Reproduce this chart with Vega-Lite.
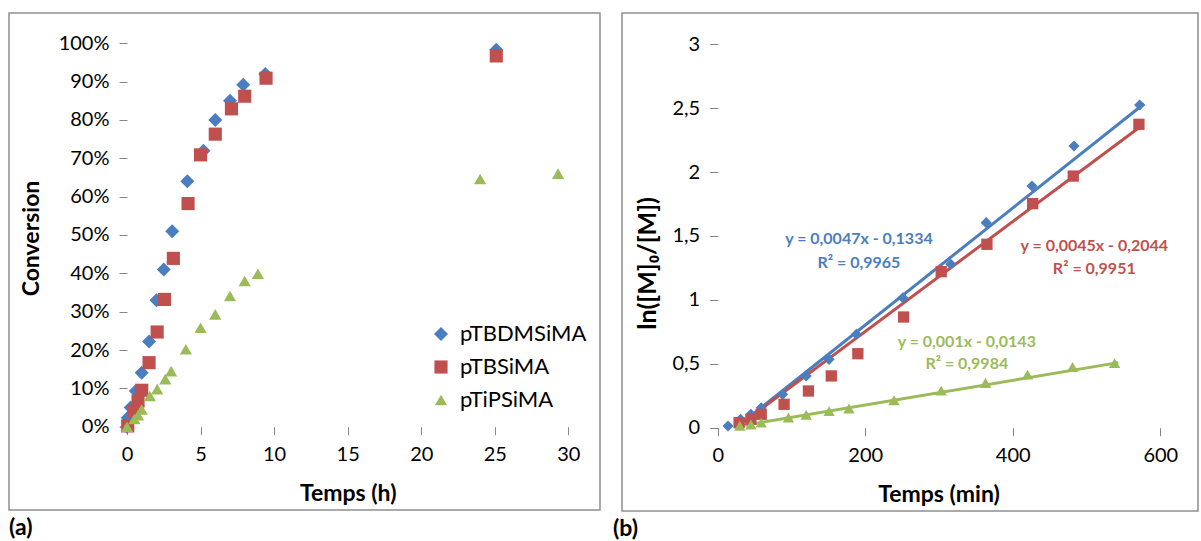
{
  "$schema": "https://vega.github.io/schema/vega-lite/v6.json",
  "padding": {"left": 8, "top": 12, "right": 0, "bottom": 0},
  "background": "white",
  "spacing": 11,
  "config": {
    "font": "Lato",
    "view": {"stroke": "#8f8f8f", "strokeWidth": 1.5},
    "axis": {"grid": false, "domain": false, "tickColor": "#868686", "tickSize": 8, "labelFont": "Lato", "labelFontSize": 20, "labelColor": "#000000", "labelPadding": 10, "titleFont": "Lato", "titleFontSize": 23, "titleFontWeight": "bold", "titleColor": "#000000"},
    "legend": {"title": null, "labelFont": "Lato", "labelFontSize": 22, "labelColor": "#000000", "padding": 0, "symbolStrokeWidth": 0},
    "title": {"font": "Lato", "fontSize": 23, "fontWeight": "bold", "color": "#000000"}
  },
  "resolve": {"scale": {"color": "independent", "shape": "independent", "size": "independent", "stroke": "independent", "fill": "independent"}, "legend": {"color": "independent", "shape": "independent"}},
  "hconcat": [
    {
      "width": 591,
      "height": 497,
      "title": {"text": "(a)", "orient": "bottom", "anchor": "start", "frame": "group", "offset": 7},
      "layer": [
        {
          "mark": {"type": "rule", "color": "#868686", "strokeWidth": 1},
          "encoding": {"x": {"datum": 0, "type": "quantitative"}, "x2": {"datum": 30}, "y": {"datum": 0, "type": "quantitative"}}
        },
        {
          "mark": {"type": "rule", "color": "#868686", "strokeWidth": 1},
          "encoding": {"x": {"datum": 0, "type": "quantitative"}, "y": {"datum": 0, "type": "quantitative"}, "y2": {"datum": 1}}
        },
        {
          "data": {"values": [
            {"s": "pTBDMSiMA", "t": 0, "c": 0.0},
            {"s": "pTBDMSiMA", "t": 0.05, "c": 0.023},
            {"s": "pTBDMSiMA", "t": 0.25, "c": 0.05},
            {"s": "pTBDMSiMA", "t": 0.6, "c": 0.093},
            {"s": "pTBDMSiMA", "t": 1.0, "c": 0.141},
            {"s": "pTBDMSiMA", "t": 1.5, "c": 0.222},
            {"s": "pTBDMSiMA", "t": 2.0, "c": 0.33},
            {"s": "pTBDMSiMA", "t": 2.5, "c": 0.41},
            {"s": "pTBDMSiMA", "t": 3.07, "c": 0.51},
            {"s": "pTBDMSiMA", "t": 4.1, "c": 0.64},
            {"s": "pTBDMSiMA", "t": 5.2, "c": 0.72},
            {"s": "pTBDMSiMA", "t": 6.0, "c": 0.80},
            {"s": "pTBDMSiMA", "t": 7.0, "c": 0.85},
            {"s": "pTBDMSiMA", "t": 7.9, "c": 0.892},
            {"s": "pTBDMSiMA", "t": 9.4, "c": 0.92},
            {"s": "pTBDMSiMA", "t": 25.1, "c": 0.983},
            {"s": "pTBSiMA", "t": 0.05, "c": 0.002},
            {"s": "pTBSiMA", "t": 0.5, "c": 0.04},
            {"s": "pTBSiMA", "t": 0.75, "c": 0.067},
            {"s": "pTBSiMA", "t": 1.0, "c": 0.095},
            {"s": "pTBSiMA", "t": 1.5, "c": 0.167},
            {"s": "pTBSiMA", "t": 2.05, "c": 0.247},
            {"s": "pTBSiMA", "t": 2.55, "c": 0.332},
            {"s": "pTBSiMA", "t": 3.15, "c": 0.439},
            {"s": "pTBSiMA", "t": 4.15, "c": 0.582},
            {"s": "pTBSiMA", "t": 5.0, "c": 0.709},
            {"s": "pTBSiMA", "t": 6.0, "c": 0.763},
            {"s": "pTBSiMA", "t": 7.1, "c": 0.829},
            {"s": "pTBSiMA", "t": 8.0, "c": 0.862},
            {"s": "pTBSiMA", "t": 9.45, "c": 0.909},
            {"s": "pTBSiMA", "t": 25.1, "c": 0.967},
            {"s": "pTiPSiMA", "t": 0, "c": 0.0},
            {"s": "pTiPSiMA", "t": 0.5, "c": 0.02},
            {"s": "pTiPSiMA", "t": 0.75, "c": 0.03},
            {"s": "pTiPSiMA", "t": 1.0, "c": 0.045},
            {"s": "pTiPSiMA", "t": 1.55, "c": 0.08},
            {"s": "pTiPSiMA", "t": 2.05, "c": 0.098},
            {"s": "pTiPSiMA", "t": 2.6, "c": 0.124},
            {"s": "pTiPSiMA", "t": 3.0, "c": 0.145},
            {"s": "pTiPSiMA", "t": 4.0, "c": 0.202},
            {"s": "pTiPSiMA", "t": 5.0, "c": 0.258},
            {"s": "pTiPSiMA", "t": 6.0, "c": 0.293},
            {"s": "pTiPSiMA", "t": 7.0, "c": 0.341},
            {"s": "pTiPSiMA", "t": 8.0, "c": 0.38},
            {"s": "pTiPSiMA", "t": 8.9, "c": 0.399},
            {"s": "pTiPSiMA", "t": 24.0, "c": 0.646},
            {"s": "pTiPSiMA", "t": 29.3, "c": 0.66}
          ]},
          "mark": {"type": "point", "filled": true, "opacity": 1, "strokeWidth": 0},
          "encoding": {
            "x": {"field": "t", "type": "quantitative", "scale": {"domain": [-8.02, 32.15], "nice": false, "zero": false},
              "axis": {"values": [0, 5, 10, 15, 20, 25, 30], "offset": -83.3, "title": "Temps (h)", "titleX": 338.7, "titleY": 56}},
            "y": {"field": "c", "type": "quantitative", "scale": {"domain": [-0.2173, 1.079], "nice": false, "zero": false},
              "axis": {"values": [0, 0.1, 0.2, 0.3, 0.4, 0.5, 0.6, 0.7, 0.8, 0.9, 1], "format": ".0%", "offset": -118, "title": "Conversion", "titleX": -96, "titleY": 225, "titleBaseline": "middle"}},
            "color": {"field": "s", "type": "nominal", "scale": {"domain": ["pTBDMSiMA", "pTBSiMA", "pTiPSiMA"], "range": ["#4A7EBF", "#C0504D", "#9BBB59"]},
              "legend": {"orient": "none", "legendX": 421, "legendY": 310, "symbolSize": 144, "labelOffset": 8, "rowPadding": 11}},
            "shape": {"field": "s", "type": "nominal", "scale": {"domain": ["pTBDMSiMA", "pTBSiMA", "pTiPSiMA"], "range": ["diamond", "square", "triangle-up"]},
              "legend": {"orient": "none", "legendX": 421, "legendY": 310, "symbolSize": 144, "labelOffset": 8, "rowPadding": 11}},
            "size": {"field": "s", "type": "nominal", "scale": {"domain": ["pTBDMSiMA", "pTBSiMA", "pTiPSiMA"], "range": [196, 150, 215]}, "legend": null}
          }
        }
      ]
    },
    {
      "width": 576,
      "height": 498,
      "title": {"text": "(b)", "orient": "bottom", "anchor": "start", "frame": "group", "offset": 7, "dx": -9},
      "layer": [
        {
          "mark": {"type": "rule", "color": "#868686", "strokeWidth": 1},
          "encoding": {"x": {"datum": 0, "type": "quantitative"}, "x2": {"datum": 600}, "y": {"datum": 0, "type": "quantitative"}}
        },
        {
          "mark": {"type": "rule", "color": "#868686", "strokeWidth": 1},
          "encoding": {"x": {"datum": 0, "type": "quantitative"}, "y": {"datum": 0, "type": "quantitative"}, "y2": {"datum": 3}}
        },
        {
          "data": {"values": [
            {"s": "pTBDMSiMA", "x": 27, "y": 0.01},
            {"s": "pTBDMSiMA", "x": 578, "y": 2.535},
            {"s": "pTBSiMA", "x": 25, "y": 0.0},
            {"s": "pTBSiMA", "x": 576, "y": 2.369},
            {"s": "pTiPSiMA", "x": 27, "y": 0.01},
            {"s": "pTiPSiMA", "x": 543, "y": 0.509}
          ]},
          "mark": {"type": "line", "strokeWidth": 3},
          "encoding": {
            "x": {"field": "x", "type": "quantitative"},
            "y": {"field": "y", "type": "quantitative"},
            "stroke": {"field": "s", "type": "nominal", "scale": {"domain": ["pTBDMSiMA", "pTBSiMA", "pTiPSiMA"], "range": ["#4A7EBF", "#C0504D", "#9BBB59"]}, "legend": null}
          }
        },
        {
          "data": {"values": [
            {"s": "pTBDMSiMA", "x": 14, "y": 0.013},
            {"s": "pTBDMSiMA", "x": 31, "y": 0.066},
            {"s": "pTBDMSiMA", "x": 45, "y": 0.105},
            {"s": "pTBDMSiMA", "x": 59, "y": 0.156},
            {"s": "pTBDMSiMA", "x": 88, "y": 0.261},
            {"s": "pTBDMSiMA", "x": 120, "y": 0.405},
            {"s": "pTBDMSiMA", "x": 151, "y": 0.535},
            {"s": "pTBDMSiMA", "x": 188, "y": 0.731},
            {"s": "pTBDMSiMA", "x": 251, "y": 1.017},
            {"s": "pTBDMSiMA", "x": 316, "y": 1.279},
            {"s": "pTBDMSiMA", "x": 364, "y": 1.604},
            {"s": "pTBDMSiMA", "x": 426, "y": 1.891},
            {"s": "pTBDMSiMA", "x": 483, "y": 2.204},
            {"s": "pTBDMSiMA", "x": 572, "y": 2.525},
            {"s": "pTBSiMA", "x": 29, "y": 0.039},
            {"s": "pTBSiMA", "x": 45, "y": 0.066},
            {"s": "pTBSiMA", "x": 59, "y": 0.105},
            {"s": "pTBSiMA", "x": 90, "y": 0.183},
            {"s": "pTBSiMA", "x": 123, "y": 0.287},
            {"s": "pTBSiMA", "x": 154, "y": 0.405},
            {"s": "pTBSiMA", "x": 190, "y": 0.579},
            {"s": "pTBSiMA", "x": 252, "y": 0.866},
            {"s": "pTBSiMA", "x": 303, "y": 1.221},
            {"s": "pTBSiMA", "x": 365, "y": 1.435},
            {"s": "pTBSiMA", "x": 427, "y": 1.753},
            {"s": "pTBSiMA", "x": 482, "y": 1.969},
            {"s": "pTBSiMA", "x": 571, "y": 2.374},
            {"s": "pTiPSiMA", "x": 30, "y": 0.015},
            {"s": "pTiPSiMA", "x": 45, "y": 0.025},
            {"s": "pTiPSiMA", "x": 59, "y": 0.04},
            {"s": "pTiPSiMA", "x": 96, "y": 0.08},
            {"s": "pTiPSiMA", "x": 120, "y": 0.10},
            {"s": "pTiPSiMA", "x": 151, "y": 0.13},
            {"s": "pTiPSiMA", "x": 178, "y": 0.15},
            {"s": "pTiPSiMA", "x": 239, "y": 0.215},
            {"s": "pTiPSiMA", "x": 303, "y": 0.29},
            {"s": "pTiPSiMA", "x": 363, "y": 0.35},
            {"s": "pTiPSiMA", "x": 420, "y": 0.415},
            {"s": "pTiPSiMA", "x": 481, "y": 0.475},
            {"s": "pTiPSiMA", "x": 538, "y": 0.505}
          ]},
          "mark": {"type": "point", "filled": true, "opacity": 1, "strokeWidth": 0},
          "encoding": {
            "x": {"field": "x", "type": "quantitative", "scale": {"domain": [-129.7, 651.1], "nice": false, "zero": false},
              "axis": {"values": [0, 200, 400, 600], "offset": -83.3, "title": "Temps (min)", "titleX": 316.5, "titleY": 56}},
            "y": {"field": "y", "type": "quantitative", "scale": {"domain": [-0.652, 3.245], "nice": false, "zero": false},
              "axis": {"values": [0, 0.5, 1, 1.5, 2, 2.5, 3], "labelExpr": "replace(format(datum.value, '~g'), '.', ',')", "offset": -95.7, "title": "ln([M]₀/[M])", "titleFontSize": 25, "titleX": -70, "titleY": 250, "titleBaseline": "middle"}},
            "color": {"field": "s", "type": "nominal", "scale": {"domain": ["pTBDMSiMA", "pTBSiMA", "pTiPSiMA"], "range": ["#4A7EBF", "#C0504D", "#9BBB59"]},
              "legend": {"orient": "none", "legendX": 137, "legendY": 24, "symbolSize": 160, "labelOffset": 14, "rowPadding": 8}},
            "shape": {"field": "s", "type": "nominal", "scale": {"domain": ["pTBDMSiMA", "pTBSiMA", "pTiPSiMA"], "range": ["diamond", "square", "triangle-up"]},
              "legend": {"orient": "none", "legendX": 137, "legendY": 24, "symbolSize": 160, "labelOffset": 14, "rowPadding": 8}},
            "size": {"field": "s", "type": "nominal", "scale": {"domain": ["pTBDMSiMA", "pTBSiMA", "pTiPSiMA"], "range": [125, 130, 130]}, "legend": null}
          }
        },
        {
          "data": {"values": [
            {"s": "pTBDMSiMA", "x": 191.5, "y": 1.477, "label": "y = 0,0047x  - 0,1334"},
            {"s": "pTBDMSiMA", "x": 191.5, "y": 1.291, "label": "R² = 0,9965"},
            {"s": "pTBSiMA", "x": 510.5, "y": 1.422, "label": "y = 0,0045x  - 0,2044"},
            {"s": "pTBSiMA", "x": 510.5, "y": 1.239, "label": "R² = 0,9951"},
            {"s": "pTiPSiMA", "x": 337.7, "y": 0.671, "label": "y = 0,001x  - 0,0143"},
            {"s": "pTiPSiMA", "x": 337.7, "y": 0.496, "label": "R² = 0,9984"}
          ]},
          "mark": {"type": "text", "fontSize": 16, "fontWeight": "bold", "font": "Lato"},
          "encoding": {
            "x": {"field": "x", "type": "quantitative"},
            "y": {"field": "y", "type": "quantitative"},
            "text": {"field": "label"},
            "fill": {"field": "s", "type": "nominal", "scale": {"domain": ["pTBDMSiMA", "pTBSiMA", "pTiPSiMA"], "range": ["#4A7EBF", "#C0504D", "#9BBB59"]}, "legend": null}
          }
        }
      ]
    }
  ]
}
